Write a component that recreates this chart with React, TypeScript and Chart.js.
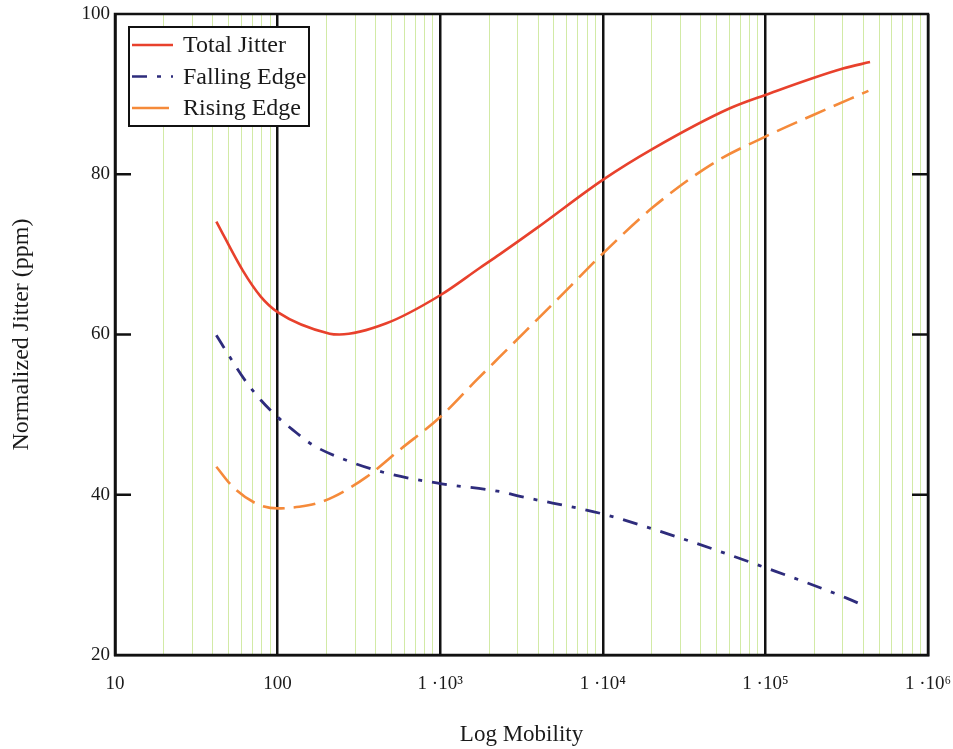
import React, { useEffect, useRef } from "react";
import { Chart, registerables } from "chart.js";

Chart.register(...registerables);

// ---- data ----
const totalX = [42, 61, 79, 100, 209, 240, 467, 1000, 1750, 2320, 4000, 10000, 20400, 60000, 100000, 300000, 440000];
const totalY = [74.1, 68.0, 64.7, 62.8, 60.1, 60.0, 61.4, 64.9, 68.3, 70.0, 73.4, 79.3, 83.2, 88.2, 89.9, 93.2, 94.0];

const fallingX = [42, 47, 64, 79, 100, 124, 165, 265, 467, 1000, 2320, 3100, 10000, 31000, 100000, 316000, 420000];
const fallingY = [59.9, 58.3, 54.1, 51.8, 49.7, 48.1, 46.2, 44.3, 42.7, 41.4, 40.4, 39.8, 37.6, 34.5, 30.9, 27.1, 26.0];

const risingX = [42, 53, 74, 100, 136, 173, 219, 351, 563, 1000, 1670, 2320, 5700, 10000, 20400, 48000, 100000, 197000, 430000];
const risingY = [43.5, 41.0, 38.9, 38.3, 38.5, 38.9, 39.7, 42.2, 45.6, 49.7, 54.3, 57.2, 65.1, 70.1, 75.9, 81.4, 84.7, 87.4, 90.4];

const seriesLabels = ["Total Jitter", "Falling Edge", "Rising Edge"];

const xMajorTicks = [10, 100, 1000, 10000, 100000, 1000000];
const xMajorLabels = ["10", "100", "1 ·10³", "1 ·10⁴", "1 ·10⁵", "1 ·10⁶"];
const xMinorMultipliers = [2, 3, 4, 5, 6, 7, 8, 9];

const yInnerTicks = [40, 60, 80];

const SERIF = "'Liberation Serif', 'Times New Roman', serif";

function toPoints(xs: number[], ys: number[]) {
  return xs.map((x, i) => ({ x, y: ys[i] }));
}

const framePlugin = {
  id: "frameAndLegend",
  afterDraw(chart: any) {
    const { ctx, chartArea } = chart;
    const ys = chart.scales.y;
    ctx.save();
    // inner y tick marks
    ctx.strokeStyle = "#111";
    ctx.lineWidth = 2.5;
    yInnerTicks.forEach((v) => {
      const py = ys.getPixelForValue(v);
      ctx.beginPath();
      ctx.moveTo(chartArea.left, py);
      ctx.lineTo(chartArea.left + 16, py);
      ctx.moveTo(chartArea.right, py);
      ctx.lineTo(chartArea.right - 16, py);
      ctx.stroke();
    });
    // frame
    ctx.strokeRect(chartArea.left, chartArea.top, chartArea.right - chartArea.left, chartArea.bottom - chartArea.top);

    // legend
    const bx = chartArea.left + 14;
    const by = chartArea.top + 13;
    const bw = 180;
    const bh = 99;
    ctx.fillStyle = "#fff";
    ctx.fillRect(bx, by, bw, bh);
    ctx.lineWidth = 2;
    ctx.strokeStyle = "#111";
    ctx.strokeRect(bx, by, bw, bh);
    ctx.font = `24px ${SERIF}`;
    ctx.textBaseline = "middle";
    ctx.textAlign = "left";
    chart.data.datasets.forEach((ds: any, i: number) => {
      const cy = by + 18 + i * 31.5;
      ctx.strokeStyle = ds.borderColor;
      ctx.lineWidth = 2.5;
      ctx.setLineDash(i === 2 ? [] : ds.borderDash || []);
      ctx.beginPath();
      ctx.moveTo(bx + 3, cy);
      ctx.lineTo(bx + (i === 2 ? 40 : 44), cy);
      ctx.stroke();
      ctx.setLineDash([]);
      ctx.fillStyle = "#1a1a1a";
      ctx.fillText(ds.label, bx + 54, cy + 1);
    });
    ctx.restore();
  },
};

export default function App() {
  const ref = useRef<HTMLCanvasElement | null>(null);

  useEffect(() => {
    document.body.style.margin = "0";
    const canvas = ref.current;
    if (!canvas) return;

    const allXTicks: number[] = [];
    xMajorTicks.forEach((m, i) => {
      allXTicks.push(m);
      if (i < xMajorTicks.length - 1) xMinorMultipliers.forEach((k) => allXTicks.push(m * k));
    });
    allXTicks.sort((a, b) => a - b);
    const isMajor = (v: number) => xMajorTicks.some((m) => Math.abs(m - v) / m < 1e-6);

    const chart = new Chart(canvas, {
      type: "line",
      data: {
        datasets: [
          {
            label: seriesLabels[0],
            data: toPoints(totalX, totalY),
            borderColor: "#e8412c",
            borderWidth: 2.6,
            pointRadius: 0,
            cubicInterpolationMode: "monotone",
            fill: false,
          },
          {
            label: seriesLabels[1],
            data: toPoints(fallingX, fallingY),
            borderColor: "#2e2c7c",
            borderWidth: 2.8,
            borderDash: [15, 10, 4, 10],
            pointRadius: 0,
            cubicInterpolationMode: "monotone",
            fill: false,
          },
          {
            label: seriesLabels[2],
            data: toPoints(risingX, risingY),
            borderColor: "#f58a3a",
            borderWidth: 2.6,
            borderDash: [22, 9],
            pointRadius: 0,
            cubicInterpolationMode: "monotone",
            fill: false,
          },
        ],
      },
      options: {
        animation: false,
        responsive: false,
        layout: { padding: { top: 14, right: 25, left: 0, bottom: 0 } },
        plugins: { legend: { display: false }, tooltip: { enabled: false } },
        scales: {
          x: {
            type: "logarithmic",
            min: 10,
            max: 1000000,
            afterBuildTicks: (s: any) => {
              s.ticks = allXTicks.map((v) => ({ value: v }));
            },
            afterFit: (s: any) => {
              s.height = 94;
              s.paddingLeft = 0;
              s.paddingRight = 0;
            },
            ticks: {
              autoSkip: false,
              maxRotation: 0,
              padding: 18,
              color: "#1a1a1a",
              font: { family: SERIF, size: 19 },
              callback: (v: any) => {
                const idx = xMajorTicks.findIndex((m) => Math.abs(m - Number(v)) / m < 1e-6);
                return idx >= 0 ? xMajorLabels[idx] : "";
              },
            },
            grid: {
              drawTicks: false,
              color: (c: any) => (c.tick && isMajor(c.tick.value) ? "#111" : "#d2eaa6"),
              lineWidth: (c: any) => (c.tick && isMajor(c.tick.value) ? 2.5 : 1),
            },
            border: { display: true, color: "#111", width: 2.5 },
            title: {
              display: true,
              text: "Log Mobility",
              color: "#1a1a1a",
              font: { family: SERIF, size: 23 },
              padding: { top: 0, bottom: 0 },
            },
          },
          y: {
            min: 20,
            max: 100,
            afterFit: (s: any) => {
              s.width = 115;
              s.paddingTop = 0;
              s.paddingBottom = 0;
            },
            ticks: {
              stepSize: 20,
              padding: 5,
              color: "#1a1a1a",
              font: { family: SERIF, size: 19 },
            },
            grid: { display: false, drawTicks: false },
            border: { display: true, color: "#111", width: 2.5 },
            title: {
              display: true,
              text: "Normalized Jitter (ppm)",
              color: "#1a1a1a",
              font: { family: SERIF, size: 24 },
              padding: { top: 7, bottom: 0 },
            },
          },
        },
      },
      plugins: [framePlugin],
    } as any);

    return () => chart.destroy();
  }, []);

  return (
    <div style={{ width: 953, height: 749 }}>
      <canvas ref={ref} width={953} height={749} style={{ display: "block" }} />
    </div>
  );
}
